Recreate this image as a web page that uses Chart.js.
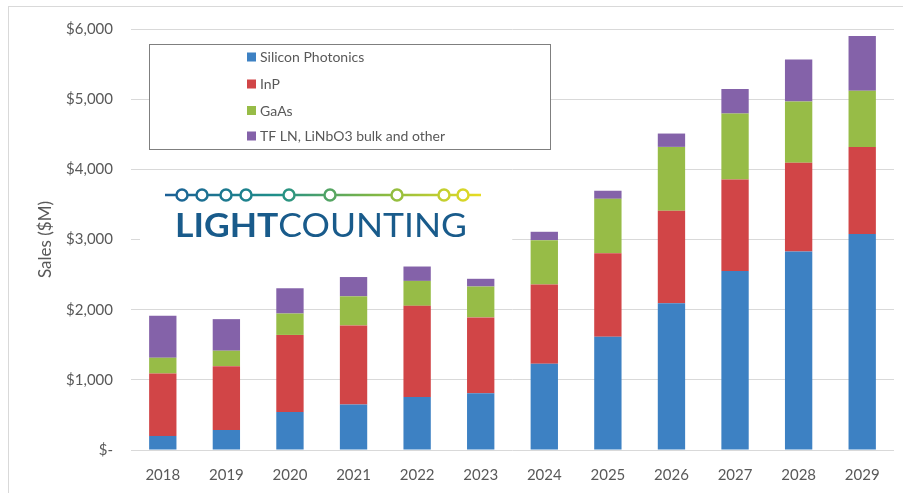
<!DOCTYPE html>
<html>
<head>
<meta charset="utf-8">
<script src="https://cdn.jsdelivr.net/npm/chart.js@4.4.1/dist/chart.umd.min.js"></script>
<style>
  html, body { margin: 0; padding: 0; background: #fff; }
  #wrap { width: 903px; height: 493px; }
</style>
</head>
<body>
<div id="wrap"><canvas id="myChart" width="903" height="493"></canvas></div>
<script>
const years = ['2018', '2019', '2020', '2021', '2022', '2023', '2024', '2025', '2026', '2027', '2028', '2029'];
const siliconPhotonics = [200, 285, 540, 650, 755, 810, 1230, 1615, 2090, 2550, 2830, 3080];
const inp = [890, 910, 1100, 1125, 1300, 1080, 1130, 1190, 1320, 1305, 1265, 1240];
const gaas = [225, 220, 305, 415, 355, 440, 630, 775, 910, 940, 870, 800];
const tfln = [600, 450, 360, 275, 205, 110, 120, 115, 190, 350, 600, 780];
const seriesNames = ['Silicon Photonics', 'InP', 'GaAs', 'TF LN, LiNbO3 bulk and other'];
const yTicks = [0, 1000, 2000, 3000, 4000, 5000, 6000];

const colors = ['#3d81c3', '#d14547', '#97bc47', '#8462a9'];
const textGray = '#595959';
const fontFamily = 'Lato, "Open Sans", sans-serif';

const money = v => v === 0 ? '$-' : '$' + v.toLocaleString('en-US');

// light frame around the whole chart
const framePlugin = {
  id: 'frame',
  beforeDraw(chart) {
    const ctx = chart.ctx;
    ctx.save();
    ctx.fillStyle = '#fff';
    ctx.fillRect(0, 0, chart.width, chart.height);
    ctx.strokeStyle = '#d9d9d9';
    ctx.lineWidth = 1;
    ctx.strokeRect(8.5, 6.5, 1200, 1200);
    ctx.restore();
  }
};

// boxed legend and the logo, both sitting over the grid
const overlayPlugin = {
  id: 'overlay',
  beforeDatasetsDraw(chart) {
    const ctx = chart.ctx;
    ctx.save();

    // legend
    ctx.fillStyle = '#fff';
    ctx.fillRect(149, 44, 402, 106);
    ctx.strokeStyle = '#7f7f7f';
    ctx.lineWidth = 1;
    ctx.strokeRect(149.5, 44.5, 401, 105);
    const rows = [57, 84, 110.5, 136];
    ctx.font = '14px ' + fontFamily;
    ctx.textBaseline = 'middle';
    chart.data.datasets.forEach((ds, i) => {
      ctx.fillStyle = ds.backgroundColor;
      ctx.fillRect(247, rows[i] - 4.5, 9, 9);
      ctx.fillStyle = textGray;
      ctx.fillText(ds.label, 260, rows[i] + 0.5);
    });

    // logo
    ctx.fillStyle = '#fff';
    ctx.fillRect(140, 178, 372, 70);
    const grad = ctx.createLinearGradient(165, 0, 481, 0);
    grad.addColorStop(0, '#1b5f96');
    grad.addColorStop(0.35, '#1f8f8a');
    grad.addColorStop(0.65, '#7cb547');
    grad.addColorStop(1, '#e8dc22');
    ctx.strokeStyle = grad;
    ctx.lineWidth = 2.5;
    ctx.beginPath();
    ctx.moveTo(165, 195);
    ctx.lineTo(481, 195);
    ctx.stroke();
    [182, 202, 226, 246, 289, 330, 397, 444, 463].forEach(cx => {
      ctx.beginPath();
      ctx.arc(cx, 195, 5.5, 0, Math.PI * 2);
      ctx.fillStyle = '#fff';
      ctx.fill();
      ctx.stroke();
    });

    const boldFont = 'bold 33px ' + fontFamily;
    const regFont = '33px ' + fontFamily;
    ctx.font = boldFont;
    const w1 = ctx.measureText('LIGHT').width;
    ctx.font = regFont;
    const w2 = ctx.measureText('COUNTING').width;
    const sx = (467 - 175) / (w1 + w2);
    ctx.translate(175, 237);
    ctx.scale(sx, 1);
    ctx.textBaseline = 'alphabetic';
    ctx.fillStyle = '#195b8b';
    ctx.font = boldFont;
    ctx.fillText('LIGHT', 0, 0);
    ctx.font = regFont;
    ctx.fillText('COUNTING', w1, 0);

    ctx.restore();
  }
};

const seriesData = [siliconPhotonics, inp, gaas, tfln];

new Chart(document.getElementById('myChart'), {
  type: 'bar',
  data: {
    labels: years,
    datasets: seriesData.map((d, i) => ({
      label: seriesNames[i],
      data: d,
      backgroundColor: colors[i],
      borderWidth: 0,
      barPercentage: 0.43,
      categoryPercentage: 1
    }))
  },
  options: {
    responsive: false,
    animation: false,
    devicePixelRatio: 1,
    layout: { padding: { top: 29, right: 9, left: 0, bottom: 0 } },
    plugins: {
      legend: { display: false },
      tooltip: { enabled: false }
    },
    scales: {
      x: {
        stacked: true,
        grid: { display: false, drawTicks: false },
        border: { display: false },
        ticks: {
          color: textGray,
          font: { family: fontFamily, size: 15 },
          padding: 16,
          maxRotation: 0
        },
        afterFit(scale) { scale.height = 43; }
      },
      y: {
        stacked: true,
        min: 0,
        max: 6000,
        afterBuildTicks(scale) { scale.ticks = yTicks.map(v => ({ value: v })); },
        grid: { color: '#d9d9d9', lineWidth: 1, drawTicks: false },
        border: { display: false },
        ticks: {
          color: textGray,
          font: { family: fontFamily, size: 15 },
          padding: 18,
          callback: v => money(v)
        },
        title: {
          display: true,
          text: 'Sales ($M)',
          color: textGray,
          font: { family: fontFamily, size: 17 },
          padding: { top: 35, bottom: 0 }
        },
        afterFit(scale) { scale.width = 131; }
      }
    }
  },
  plugins: [framePlugin, overlayPlugin]
});
</script>
</body>
</html>
